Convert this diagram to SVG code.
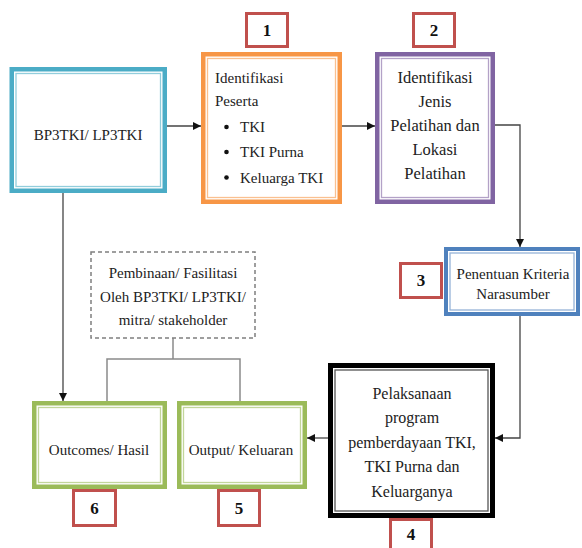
<svg xmlns="http://www.w3.org/2000/svg" width="582" height="548" viewBox="0 0 582 548">
<defs>
<style>
text{font-family:"Liberation Serif","Times New Roman",serif;font-size:15px;fill:#222}
.c{text-anchor:middle}
.big{font-size:16.5px}
.mid{font-size:16px}
.num{font-weight:bold;font-size:17px;text-anchor:middle;fill:#111}
.lab{fill:#fff;stroke:#C0504D;stroke-width:3}
.conn{fill:none;stroke:#444;stroke-width:1.3}
.gconn{fill:none;stroke:#8a8a8a;stroke-width:1.5}
.box{fill:#fff}
</style>
<marker id="ah" markerWidth="8" markerHeight="8" refX="8" refY="4" orient="auto" markerUnits="userSpaceOnUse">
<path d="M0,0 L8,4 L0,8 z" fill="#111"/>
</marker>
</defs>
<rect width="582" height="548" fill="#fff"/>

<g id="connectors">
<line class="conn" x1="167" y1="126" x2="201" y2="126" marker-end="url(#ah)"/>
<line class="conn" x1="342" y1="126" x2="375" y2="126" marker-end="url(#ah)"/>
<polyline class="conn" stroke="#777" points="495,125 520,125 520,247" marker-end="url(#ah)"/>
<polyline class="conn" points="520,316 520,438 495,438" marker-end="url(#ah)"/>
<line class="conn" x1="328" y1="438" x2="307" y2="438" marker-end="url(#ah)"/>
<line class="conn" x1="63" y1="193" x2="63" y2="401" marker-end="url(#ah)"/>
<line class="gconn" x1="173" y1="338" x2="173" y2="359"/>
<polyline class="gconn" points="107,401 107,359 240,359 240,401"/>
</g>

<g id="bp3tki">
<rect class="box" x="11.75" y="69.25" width="153" height="121.5" stroke="#4BACC6" stroke-width="4.5"/>
<rect x="16" y="73.5" width="144.5" height="113" fill="none" stroke="#92CDDC" stroke-width="1.3"/>
<text class="c" x="88" y="140">BP3TKI/ LP3TKI</text>
</g>

<g id="node1">
<rect class="box" x="203.25" y="54.25" width="136.5" height="147.5" stroke="#F79646" stroke-width="4.5"/>
<rect x="207.5" y="58.5" width="128" height="139" fill="none" stroke="#FAC090" stroke-width="1.3"/>
<text x="215" y="83">Identifikasi</text>
<text x="215" y="106">Peserta</text>
<circle cx="226.5" cy="127" r="2.3" fill="#111"/>
<circle cx="226.5" cy="152" r="2.3" fill="#111"/>
<circle cx="226.5" cy="177.5" r="2.3" fill="#111"/>
<text x="240" y="132">TKI</text>
<text x="240" y="157">TKI Purna</text>
<text x="240" y="183">Keluarga TKI</text>
</g>
<g id="label1">
<rect class="lab" x="246.5" y="13.5" width="41" height="33"/>
<text class="num" x="267" y="36">1</text>
</g>

<g id="node2">
<rect class="box" x="377.25" y="54.25" width="115.5" height="147.5" stroke="#8064A2" stroke-width="4.5"/>
<rect x="381.5" y="58.5" width="107" height="139" fill="none" stroke="#B3A2C7" stroke-width="1.3"/>
<text class="c big" x="435" y="83">Identifikasi</text>
<text class="c big" x="435" y="107">Jenis</text>
<text class="c big" x="435" y="131">Pelatihan dan</text>
<text class="c big" x="435" y="155">Lokasi</text>
<text class="c big" x="435" y="179">Pelatihan</text>
</g>
<g id="label2">
<rect class="lab" x="413.5" y="13.5" width="41" height="33"/>
<text class="num" x="434" y="36">2</text>
</g>

<g id="node3">
<rect class="box" x="446" y="249" width="132" height="65" stroke="#4F81BD" stroke-width="4"/>
<rect x="450" y="253" width="124" height="57" fill="none" stroke="#95B3D7" stroke-width="1.3"/>
<text class="c" x="513" y="279">Penentuan Kriteria</text>
<text class="c" x="513" y="299">Narasumber</text>
</g>
<g id="label3">
<rect class="lab" x="400.5" y="263.5" width="41" height="34"/>
<text class="num" x="421" y="286">3</text>
</g>

<g id="node4">
<rect class="box" x="330.5" y="365.5" width="162" height="150" stroke="#000" stroke-width="5"/>
<rect x="335" y="370" width="153" height="141" fill="none" stroke="#555" stroke-width="1.3"/>
<text class="c mid" x="412" y="399">Pelaksanaan</text>
<text class="c mid" x="412" y="423">program</text>
<text class="c mid" x="412" y="448">pemberdayaan TKI,</text>
<text class="c mid" x="412" y="472">TKI Purna dan</text>
<text class="c mid" x="412" y="497">Keluarganya</text>
</g>
<g id="label4">
<rect class="lab" x="390.5" y="519.5" width="41" height="34"/>
<text class="num" x="411" y="540">4</text>
</g>

<g id="node5">
<rect class="box" x="179.25" y="403.25" width="125.5" height="83.5" stroke="#9BBB59" stroke-width="4.5"/>
<rect x="183.5" y="407.5" width="117" height="75" fill="none" stroke="#C3D69B" stroke-width="1.3"/>
<text class="c" x="241" y="455">Output/ Keluaran</text>
</g>
<g id="label5">
<rect class="lab" x="218.5" y="490.5" width="41" height="35"/>
<text class="num" x="239" y="514">5</text>
</g>

<g id="node6">
<rect class="box" x="34.25" y="403.25" width="130.5" height="83.5" stroke="#9BBB59" stroke-width="4.5"/>
<rect x="38.5" y="407.5" width="122" height="75" fill="none" stroke="#C3D69B" stroke-width="1.3"/>
<text class="c" x="99" y="455">Outcomes/ Hasil</text>
</g>
<g id="label6">
<rect class="lab" x="73.5" y="490.5" width="42" height="35"/>
<text class="num" x="94.5" y="514">6</text>
</g>

<g id="pembinaan">
<rect x="91" y="252" width="164" height="86" fill="#fff" stroke="#7f7f7f" stroke-width="1.5" stroke-dasharray="4 3"/>
<text class="c" x="173" y="278">Pembinaan/ Fasilitasi</text>
<text class="c" x="173" y="302">Oleh BP3TKI/ LP3TKI/</text>
<text class="c" x="173" y="325">mitra/ stakeholder</text>
</g>
</svg>
